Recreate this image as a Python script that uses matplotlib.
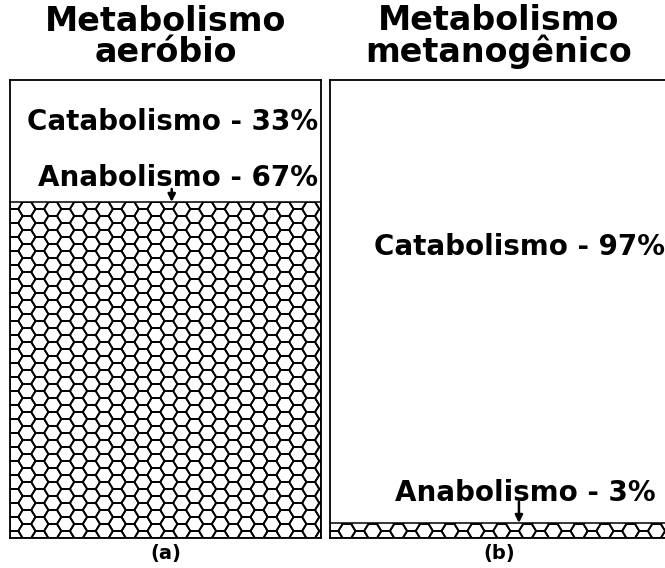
import numpy as np
import matplotlib
matplotlib.use("Agg")
import matplotlib.pyplot as plt
from matplotlib.collections import LineCollection

titles = ["Metabolismo\naeróbio", "Metabolismo\nmetanogênico"]
panel_tags = ["(a)", "(b)"]
anabolismo = [67, 3]
catabolismo = [33, 97]

plt.rcParams['font.family'] = ['DejaVu Sans']

fig = plt.figure(figsize=(6.65, 5.68), dpi=100)
W, H = 665.0, 568.0


def axes_px(x0, x1, ytop, ybot):
    return fig.add_axes([x0 / W, (H - ybot) / H, (x1 - x0) / W, (ybot - ytop) / H])


def honeycomb(ax, patch, side=8.6, period=14.0):
    # draw a hexagon texture clipped to the bar
    bb = ax.get_position()
    w_px = bb.width * W
    h_px = bb.height * H
    x0, x1 = ax.get_xlim()
    y0, y1 = ax.get_ylim()
    sx = (x1 - x0) / w_px
    sy = (y1 - y0) / h_px
    hexv = np.array([[side, 0], [side / 2, period / 2], [-side / 2, period / 2],
                     [-side, 0], [-side / 2, -period / 2], [side / 2, -period / 2],
                     [side, 0]])
    segs = []
    ncol = int(w_px / (1.5 * side)) + 3
    nrow = int(h_px / period) + 3
    for i in range(-1, ncol):
        for j in range(-1, nrow):
            cx = 1.5 * side * i + 4
            cy = period * j + (i % 2) * period / 2
            pts = hexv + [cx, cy]
            segs.append(np.column_stack([x0 + pts[:, 0] * sx, y0 + pts[:, 1] * sy]))
    lc = LineCollection(segs, colors='black', linewidths=1.3, zorder=3)
    ax.add_collection(lc)
    lc.set_clip_path(patch)


axes = [axes_px(10, 321, 80, 538), axes_px(330, 668, 80, 538)]
ymax = 91.3

for k, ax in enumerate(axes):
    ax.set_xlim(-0.5, 0.5)
    ax.set_ylim(0, ymax)
    bars = ax.bar(0, anabolismo[k], width=1.0, color='white', edgecolor='black',
                  linewidth=1.1, zorder=2)
    ax.bar(0, catabolismo[k], bottom=anabolismo[k], width=1.0, color='white',
           edgecolor='none', zorder=1)
    honeycomb(ax, bars[0])
    ax.set_xticks([])
    ax.set_yticks([])
    for sp in ax.spines.values():
        sp.set_linewidth(1.3)
    ax.text(0.5, 1.024, titles[k], transform=ax.transAxes, ha='center', va='bottom',
            fontsize=24, fontweight='bold', linespacing=0.92)
    ax.text(0.5, -0.034, panel_tags[k], transform=ax.transAxes, ha='center', va='center',
            fontsize=14, fontweight='bold')

fs = 20
# left panel labels
axes[0].text(0.99, 0.908, "Catabolismo - %d%%" % catabolismo[0], transform=axes[0].transAxes,
             ha='right', va='center', fontsize=fs, fontweight='bold')
axes[0].text(0.99, 0.786, "Anabolismo - %d%%" % anabolismo[0], transform=axes[0].transAxes,
             ha='right', va='center', fontsize=fs, fontweight='bold')
axes[0].annotate("", xy=(0.02, anabolismo[0]), xytext=(0.02, ymax * 0.762),
                 arrowprops=dict(arrowstyle='-|>', lw=1.8, color='black', mutation_scale=11,
                                 shrinkA=0, shrinkB=0))

# right panel labels
axes[1].text(0.991, 0.635, "Catabolismo - %d%%" % catabolismo[1], transform=axes[1].transAxes,
             ha='right', va='center', fontsize=fs, fontweight='bold')
axes[1].text(0.962, 0.098, "Anabolismo - %d%%" % anabolismo[1], transform=axes[1].transAxes,
             ha='right', va='center', fontsize=fs, fontweight='bold')
axes[1].annotate("", xy=(0.059, anabolismo[1]), xytext=(0.059, ymax * 0.079),
                 arrowprops=dict(arrowstyle='-|>', lw=1.8, color='black', mutation_scale=11,
                                 shrinkA=0, shrinkB=0))

fig.savefig("out.png", dpi=100)
